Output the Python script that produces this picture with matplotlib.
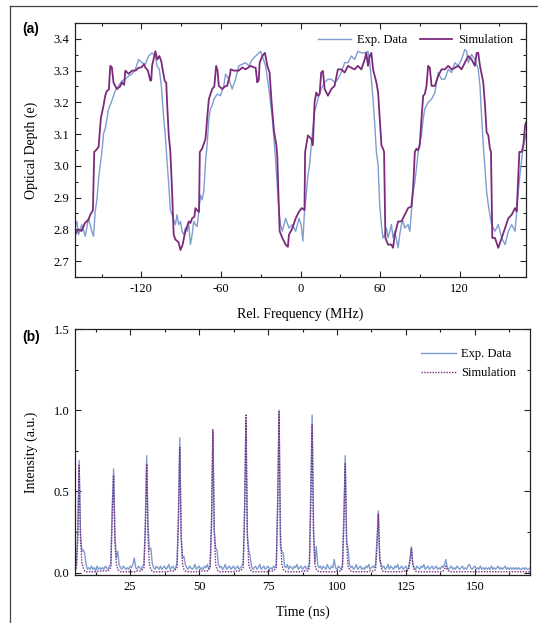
# Optical depth spectrum (a) and pulse train intensity (b).

import numpy as np
import matplotlib
matplotlib.use("Agg")
from matplotlib import pyplot as plt
from matplotlib.ticker import MultipleLocator, FormatStrFormatter
from matplotlib.lines import Line2D

plt.rcParams["font.family"] = ["Liberation Serif", "DejaVu Serif"]
plt.rcParams["axes.unicode_minus"] = False

BLUE = "#7f9dd0"
PURPLE = "#7c2a7c"

# ---- panel (a): optical depth vs relative frequency ----
exp_mhz = [
    -170.0, -168.6, -167.4, -164.8, -162.3, -159.8, -157.3, -156.0, -154.8, -153.5,
    -152.2, -151.0, -149.7, -148.5, -147.2, -144.7, -142.2, -139.7, -137.1, -134.6,
    -132.1, -129.6, -127.1, -124.5, -122.0, -119.5, -117.0, -114.5, -111.9, -109.4,
    -108.2, -106.4, -104.9, -103.1, -101.9, -100.6, -99.3, -98.1, -96.8, -95.6,
    -94.3, -93.1, -91.8, -90.5, -89.3, -88.0, -86.8, -85.5, -84.2, -83.0,
    -81.7, -80.5, -79.2, -77.9, -76.7, -75.4, -74.2, -72.9, -71.6, -70.4,
    -69.1, -67.9, -66.6, -65.3, -62.8, -60.3, -57.8, -56.5, -54.0, -51.5,
    -49.0, -46.5, -43.9, -41.4, -38.9, -36.4, -33.8, -31.3, -30.1, -28.8,
    -26.3, -23.8, -21.2, -19.2, -17.5, -16.2, -15.0, -13.7, -11.2, -8.7,
    -6.1, -3.6, -1.1, 0.5, 1.8, 3.0, 4.3, 5.6, 6.8, 8.1,
    9.3, 10.6, 13.1, 15.6, 18.2, 20.7, 23.2, 25.7, 28.2, 30.7,
    33.3, 35.8, 38.3, 40.8, 43.3, 45.9, 48.4, 50.9, 52.2, 53.4,
    54.7, 55.9, 57.2, 58.5, 59.7, 61.0, 62.2, 63.5, 64.8, 66.0,
    67.3, 68.5, 69.8, 71.1, 73.6, 74.8, 76.1, 77.3, 78.6, 81.1,
    82.4, 83.6, 84.9, 86.2, 87.4, 88.7, 89.9, 91.2, 92.5, 93.7,
    96.2, 98.8, 101.3, 103.8, 106.3, 108.8, 111.4, 113.9, 116.4, 118.9,
    121.4, 123.9, 125.2, 126.5, 129.0, 131.5, 134.0, 135.3, 136.5, 137.8,
    139.1, 140.3, 141.6, 142.8, 144.1, 146.6, 149.1, 151.7, 154.2, 156.7,
    159.2, 161.7, 163.0, 164.2, 165.4, 166.8, 168.0, 169.3, 170.0,
]
exp_od = [
    2.804, 2.825, 2.783, 2.815, 2.778, 2.835, 2.794, 2.778, 2.856, 2.893,
    2.960, 3.002, 3.044, 3.101, 3.117, 3.179, 3.205, 3.236, 3.252, 3.268,
    3.273, 3.283, 3.289, 3.304, 3.335, 3.325, 3.320, 3.346, 3.356, 3.346,
    3.315, 3.304, 3.252, 3.148, 3.096, 3.013, 2.940, 2.861, 2.846, 2.830,
    2.815, 2.846, 2.815, 2.825, 2.794, 2.783, 2.804, 2.794, 2.815, 2.752,
    2.783, 2.825, 2.815, 2.809, 2.856, 2.908, 2.893, 2.919, 3.013, 3.065,
    3.148, 3.179, 3.190, 3.210, 3.226, 3.221, 3.252, 3.289, 3.273, 3.242,
    3.273, 3.315, 3.320, 3.325, 3.315, 3.335, 3.346, 3.356, 3.361, 3.346,
    3.315, 3.242, 3.148, 3.044, 2.940, 2.856, 2.815, 2.794, 2.835, 2.804,
    2.815, 2.794, 2.835, 2.815, 2.763, 2.856, 2.908, 2.971, 3.002, 3.065,
    3.117, 3.169, 3.210, 3.242, 3.263, 3.273, 3.273, 3.263, 3.273, 3.294,
    3.325, 3.325, 3.346, 3.335, 3.361, 3.356, 3.356, 3.361, 3.325, 3.273,
    3.210, 3.137, 3.044, 3.002, 2.877, 2.815, 2.773, 2.783, 2.804, 2.773,
    2.794, 2.815, 2.773, 2.794, 2.742, 2.783, 2.815, 2.825, 2.804, 2.815,
    2.794, 2.856, 2.919, 2.950, 2.992, 3.044, 3.075, 3.096, 3.148, 3.179,
    3.200, 3.210, 3.231, 3.294, 3.273, 3.273, 3.304, 3.294, 3.325, 3.315,
    3.335, 3.367, 3.361, 3.325, 3.351, 3.335, 3.304, 3.252, 3.158, 3.065,
    2.992, 2.919, 2.877, 2.846, 2.815, 2.794, 2.815, 2.773, 2.752, 2.794,
    2.815, 2.794, 2.856, 2.919, 2.971, 3.023, 3.065, 3.085, 3.100,
]

sim_mhz = [
    -170.0, -167.5, -165.0, -162.5, -160.0, -158.0, -156.5, -155.5, -154.0, -152.2,
    -150.5, -148.5, -147.2, -146.0, -144.5, -143.4, -142.2, -141.0, -139.5, -138.4,
    -136.0, -134.6, -133.0, -132.0, -129.6, -127.0, -124.5, -122.0, -120.0, -118.0,
    -117.0, -115.0, -113.2, -112.5, -111.9, -110.5, -109.4, -108.0, -106.4, -105.0,
    -104.4, -102.4, -101.2, -100.6, -99.3, -98.1, -96.8, -95.6, -94.3, -92.0,
    -90.5, -89.0, -86.8, -84.2, -83.0, -81.7, -80.0, -79.2, -78.0, -76.5,
    -75.9, -74.2, -71.6, -70.4, -69.1, -66.6, -65.0, -63.6, -62.5, -61.6,
    -59.0, -57.0, -55.3, -53.0, -52.7, -50.0, -46.5, -43.9, -41.4, -37.6,
    -35.0, -33.8, -32.6, -31.5, -30.8, -28.8, -26.8, -25.0, -23.3, -21.8,
    -20.0, -18.2, -17.5, -16.7, -15.7, -13.7, -11.2, -9.5, -8.7, -6.1,
    -3.6, -1.1, 0.9, 3.0, 3.5, 5.6, 8.1, 9.3, 10.6, 11.9,
    13.1, 14.4, 15.6, 16.9, 18.2, 20.7, 23.2, 25.7, 28.2, 30.7,
    33.3, 35.8, 38.3, 40.8, 43.3, 45.9, 48.4, 49.6, 50.9, 52.2,
    53.4, 54.7, 57.2, 58.5, 61.0, 62.2, 63.0, 64.0, 66.0, 68.5,
    69.8, 71.1, 73.6, 76.1, 78.6, 81.1, 83.6, 84.9, 86.2, 87.4,
    88.7, 89.9, 91.2, 92.5, 93.7, 95.0, 96.2, 97.5, 98.8, 101.3,
    103.8, 106.3, 108.8, 111.4, 113.9, 116.4, 118.9, 121.4, 123.9, 126.5,
    129.0, 131.5, 132.8, 134.0, 135.3, 137.8, 139.1, 140.3, 141.6, 142.8,
    143.6, 144.6, 146.6, 149.1, 151.7, 154.2, 156.7, 159.2, 161.7, 163.0,
    164.2, 165.0, 166.8, 168.0, 169.3, 170.0,
]
sim_od = [
    2.783, 2.800, 2.795, 2.820, 2.830, 2.850, 2.860, 3.044, 3.050, 3.060,
    3.150, 3.190, 3.221, 3.236, 3.240, 3.315, 3.310, 3.263, 3.250, 3.242,
    3.250, 3.263, 3.255, 3.300, 3.290, 3.300, 3.300, 3.309, 3.310, 3.320,
    3.310, 3.300, 3.268, 3.270, 3.315, 3.340, 3.361, 3.335, 3.346, 3.330,
    3.315, 3.268, 3.262, 3.200, 3.096, 3.044, 2.919, 2.783, 2.768, 2.760,
    2.735, 2.750, 2.794, 2.825, 2.820, 2.835, 2.840, 2.867, 2.860, 2.855,
    3.044, 3.054, 3.085, 3.148, 3.210, 3.242, 3.250, 3.315, 3.300, 3.252,
    3.242, 3.250, 3.252, 3.290, 3.304, 3.300, 3.300, 3.310, 3.304, 3.315,
    3.310, 3.309, 3.263, 3.270, 3.325, 3.346, 3.356, 3.315, 3.294, 3.200,
    3.110, 3.065, 3.030, 2.919, 2.794, 2.773, 2.752, 2.745, 2.783, 2.804,
    2.835, 2.856, 2.867, 2.861, 3.044, 3.096, 3.085, 3.065, 3.200, 3.231,
    3.221, 3.226, 3.294, 3.299, 3.242, 3.221, 3.242, 3.252, 3.304, 3.304,
    3.294, 3.315, 3.309, 3.304, 3.315, 3.304, 3.335, 3.356, 3.315, 3.346,
    3.356, 3.304, 3.263, 3.231, 3.065, 3.054, 3.044, 2.773, 2.752, 2.752,
    2.742, 2.783, 2.825, 2.825, 2.846, 2.867, 2.872, 2.929, 3.044, 3.054,
    3.049, 3.065, 3.148, 3.221, 3.226, 3.252, 3.315, 3.309, 3.252, 3.252,
    3.283, 3.304, 3.304, 3.315, 3.304, 3.309, 3.315, 3.304, 3.325, 3.346,
    3.335, 3.315, 3.356, 3.356, 3.315, 3.263, 3.190, 3.106, 3.096, 3.054,
    3.044, 2.773, 2.773, 2.742, 2.773, 2.804, 2.835, 2.846, 2.867, 2.856,
    2.971, 3.044, 3.044, 3.065, 3.127, 3.137,
]

# ---- panel (b): intensity vs time, sampled every 0.5 ns from 5 ns ----
time_start = 5.0
time_step = 0.5
exp_int = [
    0.03, 0.05, 0.25, 0.69, 0.24, 0.13, 0.14, 0.12, 0.05, 0.02, 0.03, 0.02, 0.04, 0.02, 0.03, 0.01, 0.04, 0.02, 0.03, 0.02,
    0.03, 0.02, 0.04, 0.03, 0.02, 0.04, 0.05, 0.40, 0.64, 0.22, 0.09, 0.13, 0.05, 0.03, 0.02, 0.04, 0.03, 0.02, 0.03, 0.02,
    0.04, 0.03, 0.05, 0.09, 0.03, 0.02, 0.04, 0.03, 0.02, 0.04, 0.05, 0.30, 0.72, 0.28, 0.14, 0.15, 0.06, 0.03, 0.02, 0.04,
    0.03, 0.02, 0.04, 0.02, 0.03, 0.04, 0.02, 0.03, 0.05, 0.02, 0.03, 0.04, 0.02, 0.03, 0.06, 0.35, 0.83, 0.23, 0.09, 0.10,
    0.05, 0.03, 0.02, 0.04, 0.03, 0.02, 0.03, 0.05, 0.02, 0.03, 0.04, 0.02, 0.03, 0.02, 0.04, 0.03, 0.05, 0.02, 0.04, 0.30,
    0.87, 0.26, 0.15, 0.14, 0.05, 0.03, 0.04, 0.02, 0.03, 0.05, 0.02, 0.03, 0.04, 0.02, 0.03, 0.04, 0.02, 0.03, 0.04, 0.02,
    0.03, 0.04, 0.06, 0.40, 0.94, 0.22, 0.14, 0.10, 0.04, 0.02, 0.03, 0.04, 0.02, 0.03, 0.05, 0.02, 0.03, 0.04, 0.02, 0.03,
    0.04, 0.02, 0.03, 0.02, 0.04, 0.03, 0.05, 0.45, 1.00, 0.16, 0.13, 0.12, 0.04, 0.03, 0.05, 0.02, 0.04, 0.03, 0.02, 0.04,
    0.03, 0.05, 0.02, 0.03, 0.04, 0.02, 0.03, 0.04, 0.02, 0.03, 0.06, 0.50, 0.97, 0.26, 0.06, 0.16, 0.05, 0.03, 0.04, 0.02,
    0.04, 0.03, 0.02, 0.05, 0.03, 0.02, 0.04, 0.03, 0.08, 0.03, 0.02, 0.04, 0.03, 0.02, 0.05, 0.35, 0.72, 0.19, 0.15, 0.05,
    0.03, 0.04, 0.02, 0.03, 0.05, 0.02, 0.03, 0.04, 0.02, 0.03, 0.02, 0.04, 0.03, 0.05, 0.02, 0.03, 0.04, 0.03, 0.05, 0.20,
    0.38, 0.08, 0.05, 0.03, 0.04, 0.02, 0.03, 0.05, 0.02, 0.04, 0.03, 0.02, 0.04, 0.03, 0.05, 0.02, 0.03, 0.04, 0.02, 0.03,
    0.04, 0.02, 0.03, 0.09, 0.16, 0.05, 0.03, 0.02, 0.04, 0.03, 0.02, 0.04, 0.03, 0.05, 0.02, 0.03, 0.04, 0.02, 0.03, 0.04,
    0.02, 0.03, 0.04, 0.02, 0.03, 0.02, 0.04, 0.03, 0.05, 0.08, 0.03, 0.02, 0.03, 0.04, 0.02, 0.03, 0.02, 0.04, 0.03, 0.02,
    0.03, 0.04, 0.02, 0.03, 0.02, 0.04, 0.05, 0.03, 0.02, 0.03, 0.04, 0.02, 0.03, 0.02, 0.04, 0.02, 0.03, 0.02, 0.03, 0.02,
    0.03, 0.02, 0.04, 0.02, 0.03, 0.02, 0.03, 0.04, 0.02, 0.03, 0.02, 0.03, 0.04, 0.02, 0.03, 0.02, 0.03, 0.02, 0.03, 0.02,
    0.03, 0.02, 0.03, 0.02, 0.02, 0.03, 0.02, 0.03, 0.02, 0.02, 0.03,
]
sim_int = [
    0.01, 0.02, 0.20, 0.66, 0.20, 0.06, 0.03, 0.01, 0.005, 0.005, 0.005, 0.005, 0.005, 0.005, 0.005, 0.005, 0.005, 0.01, 0.01, 0.01,
    0.01, 0.01, 0.01, 0.01, 0.01, 0.02, 0.03, 0.35, 0.60, 0.18, 0.05, 0.02, 0.01, 0.005, 0.005, 0.005, 0.005, 0.005, 0.005, 0.005,
    0.005, 0.005, 0.005, 0.005, 0.005, 0.01, 0.01, 0.01, 0.01, 0.02, 0.03, 0.25, 0.67, 0.20, 0.05, 0.02, 0.01, 0.005, 0.005, 0.005,
    0.005, 0.005, 0.005, 0.005, 0.005, 0.005, 0.005, 0.005, 0.01, 0.01, 0.01, 0.01, 0.01, 0.02, 0.03, 0.30, 0.77, 0.22, 0.05, 0.02,
    0.01, 0.005, 0.005, 0.005, 0.005, 0.005, 0.005, 0.005, 0.005, 0.005, 0.005, 0.005, 0.01, 0.01, 0.01, 0.01, 0.01, 0.02, 0.03, 0.30,
    0.88, 0.25, 0.05, 0.02, 0.01, 0.005, 0.005, 0.005, 0.005, 0.005, 0.005, 0.005, 0.005, 0.005, 0.005, 0.005, 0.01, 0.01, 0.01, 0.01,
    0.01, 0.02, 0.03, 0.35, 0.97, 0.25, 0.05, 0.02, 0.01, 0.005, 0.005, 0.005, 0.005, 0.005, 0.005, 0.005, 0.005, 0.005, 0.005, 0.005,
    0.005, 0.01, 0.01, 0.01, 0.01, 0.02, 0.03, 0.40, 0.99, 0.25, 0.05, 0.02, 0.01, 0.005, 0.005, 0.005, 0.005, 0.005, 0.005, 0.005,
    0.005, 0.005, 0.005, 0.005, 0.005, 0.01, 0.01, 0.01, 0.01, 0.01, 0.03, 0.40, 0.91, 0.25, 0.05, 0.02, 0.01, 0.005, 0.005, 0.005,
    0.005, 0.005, 0.005, 0.005, 0.005, 0.005, 0.005, 0.005, 0.005, 0.005, 0.01, 0.01, 0.01, 0.01, 0.03, 0.30, 0.67, 0.18, 0.04, 0.02,
    0.01, 0.005, 0.005, 0.005, 0.005, 0.005, 0.005, 0.005, 0.005, 0.005, 0.005, 0.005, 0.005, 0.005, 0.01, 0.01, 0.01, 0.01, 0.02, 0.15,
    0.36, 0.10, 0.03, 0.01, 0.005, 0.005, 0.005, 0.005, 0.005, 0.005, 0.005, 0.005, 0.005, 0.005, 0.005, 0.005, 0.005, 0.005, 0.01, 0.01,
    0.01, 0.01, 0.02, 0.07, 0.15, 0.05, 0.02, 0.01, 0.005, 0.005, 0.005, 0.005, 0.005, 0.005, 0.005, 0.005, 0.005, 0.005, 0.005, 0.005,
    0.005, 0.005, 0.005, 0.005, 0.005, 0.005, 0.005, 0.01, 0.02, 0.04, 0.02, 0.01, 0.005, 0.005, 0.005, 0.005, 0.005, 0.005, 0.005, 0.005,
    0.005, 0.005, 0.005, 0.005, 0.005, 0.005, 0.005, 0.005, 0.005, 0.005, 0.005, 0.005, 0.005, 0.005, 0.005, 0.005, 0.005, 0.005, 0.005, 0.005,
    0.005, 0.005, 0.005, 0.005, 0.005, 0.005, 0.005, 0.005, 0.005, 0.005, 0.005, 0.005, 0.005, 0.005, 0.005, 0.005, 0.005, 0.005, 0.005, 0.005,
    0.005, 0.005, 0.005, 0.005, 0.005, 0.005, 0.005, 0.005, 0.005, 0.005, 0.005,
]
time_ns = time_start + time_step * np.arange(len(exp_int))


def style_axes(ax):
    ax.tick_params(which="both", direction="in", top=True, right=True,
                   labelsize=9, width=0.8, color="#222222", pad=4)
    ax.tick_params(which="major", length=4)
    ax.tick_params(which="minor", length=2.5)
    for s in ax.spines.values():
        s.set_linewidth(0.9)
        s.set_color("#222222")


W, H = 538, 623
fig = plt.figure(figsize=(W / 100, H / 100), dpi=100)

ax1 = fig.add_axes([75 / W, 1 - 277 / H, 451 / W, 254 / H])
ax1.plot(exp_mhz, exp_od, color=BLUE, lw=1.0, label="Exp. Data")
ax1.plot(sim_mhz, sim_od, color=PURPLE, lw=1.3, label="Simulation")
ax1.set_xlim(-170, 170)
ax1.set_ylim(2.65, 3.45)
ax1.xaxis.set_major_locator(MultipleLocator(60))
ax1.xaxis.set_minor_locator(MultipleLocator(30))
ax1.yaxis.set_major_locator(MultipleLocator(0.1))
ax1.yaxis.set_minor_locator(MultipleLocator(0.05))
ax1.yaxis.set_major_formatter(FormatStrFormatter("%.1f"))
ax1.set_xlabel("Rel. Frequency (MHz)", fontsize=10, labelpad=9)
ax1.set_ylabel("Optical Depth (e)", fontsize=10)
ax1.yaxis.set_label_coords(-0.082, 0.5)
style_axes(ax1)
ax1.legend(loc="upper right", bbox_to_anchor=(0.978, 0.965), ncol=2, frameon=False,
           fontsize=9, handlelength=2.6, handletextpad=0.5, columnspacing=1.0,
           borderpad=0.2, borderaxespad=0)

ax2 = fig.add_axes([75 / W, 1 - 575 / H, 455 / W, 246 / H])
ax2.plot(time_ns, exp_int, color=BLUE, lw=1.0, label="Exp. Data")
ax2.plot(time_ns, sim_int, color=PURPLE, lw=1.0, ls=(0, (1, 1)), label="Simulation")
ax2.set_xlim(5, 170)
ax2.set_ylim(-0.015, 1.5)
ax2.xaxis.set_major_locator(MultipleLocator(25))
ax2.xaxis.set_minor_locator(MultipleLocator(12.5))
ax2.yaxis.set_major_locator(MultipleLocator(0.5))
ax2.yaxis.set_minor_locator(MultipleLocator(0.25))
ax2.yaxis.set_major_formatter(FormatStrFormatter("%.1f"))
ax2.set_xlabel("Time (ns)", fontsize=10, labelpad=9)
ax2.set_ylabel("Intensity (a.u.)", fontsize=10)
ax2.yaxis.set_label_coords(-0.082, 0.5)
style_axes(ax2)
ax2.legend(loc="upper right", bbox_to_anchor=(0.974, 0.931), ncol=1, frameon=False,
           fontsize=9, handlelength=2.8, handletextpad=0.4, labelspacing=0.55,
           borderpad=0.2, borderaxespad=0)

# panel letters and outer frame
fig.text(22 / W, 1 - 29 / H, "(a)", fontsize=10, fontweight="bold",
         family=["Liberation Sans", "DejaVu Sans"], va="center", ha="left")
fig.text(22 / W, 1 - 337 / H, "(b)", fontsize=10, fontweight="bold",
         family=["Liberation Sans", "DejaVu Sans"], va="center", ha="left")
fx, fy = 9.5 / W, 1 - 5.5 / H
fig.add_artist(Line2D([fx, fx], [0, fy], transform=fig.transFigure, color="#444444", lw=0.9))
fig.add_artist(Line2D([fx, 1], [fy, fy], transform=fig.transFigure, color="#444444", lw=0.9))

fig.savefig("out.png", dpi=100)
